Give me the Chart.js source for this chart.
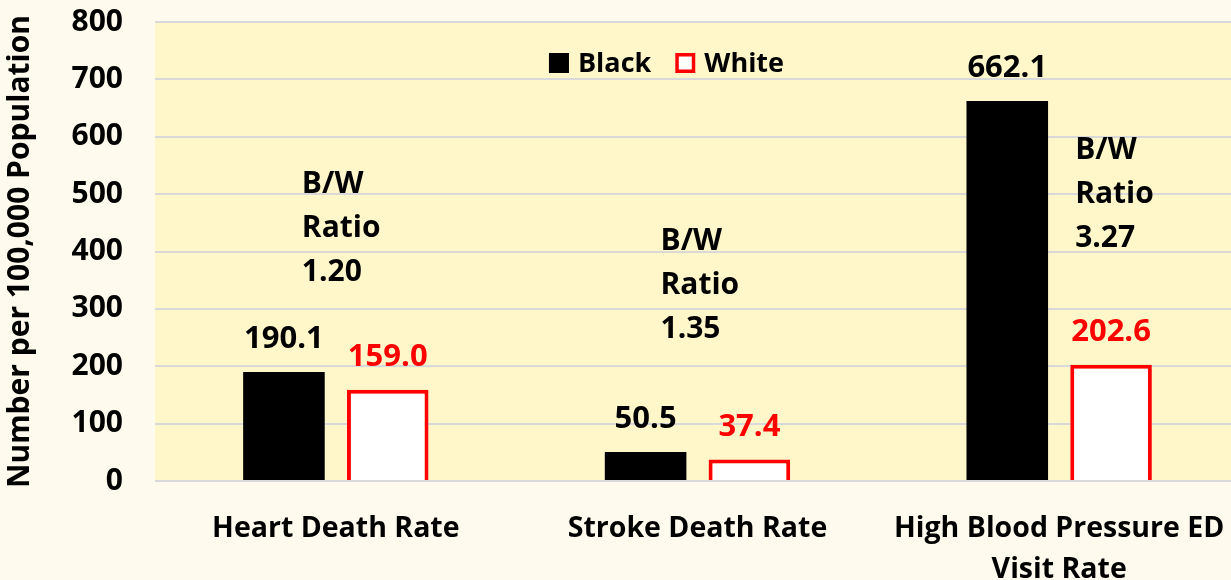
<!DOCTYPE html>
<html>
<head>
<meta charset="utf-8">
<script src="https://cdn.jsdelivr.net/npm/chart.js@4"></script>
<style>
  html, body { margin: 0; padding: 0; background: #FFFAEE; overflow: hidden; }
  canvas { display: block; }
</style>
</head>
<body>
<!-- la zone de tracé déborde un peu à droite, comme sur l'original -->
<canvas id="chart" width="1240" height="580"></canvas>
<script>
// --- data ---
const categories = ['Heart Death Rate', 'Stroke Death Rate', ['High Blood Pressure ED', 'Visit Rate']];
const blackRates = [190.1, 50.5, 662.1];
const whiteRates = [159.0, 37.4, 202.6];
const ratioLabels = ['1.20', '1.35', '3.27'];
const yTicks = [0, 100, 200, 300, 400, 500, 600, 700, 800];

const FONT = '"Open Sans", Lato, sans-serif';

// fond jaune de la zone de tracé
const plotBg = {
    id: 'plotBg',
    beforeDraw(chart) {
        const { ctx, chartArea: a } = chart;
        ctx.save();
        ctx.fillStyle = '#FFF7CA';
        ctx.fillRect(a.left, a.top, a.right - a.left, a.bottom - a.top);
        ctx.restore();
    }
};

// valeurs au-dessus des barres
const valueLabels = {
    id: 'valueLabels',
    afterDatasetsDraw(chart) {
        const ctx = chart.ctx;
        ctx.save();
        ctx.font = 'bold 31px ' + FONT;
        ctx.textAlign = 'center';
        ctx.textBaseline = 'alphabetic';
        chart.data.datasets.forEach((ds, i) => {
            chart.getDatasetMeta(i).data.forEach((bar, j) => {
                ctx.fillStyle = ds.labelColor;
                ctx.fillText(ds.data[j].toFixed(1), bar.x, bar.y - 24);
            });
        });
        ctx.restore();
    }
};

// texte "B/W Ratio x.xx"
const ratioNotes = {
    id: 'ratioNotes',
    afterDatasetsDraw(chart, args, opts) {
        const ctx = chart.ctx;
        const x = chart.scales.x, y = chart.scales.y;
        ctx.save();
        ctx.font = 'bold 30px ' + FONT;
        ctx.fillStyle = '#000';
        ctx.textAlign = 'left';
        ctx.textBaseline = 'alphabetic';
        ratioLabels.forEach((r, i) => {
            const p = opts.anchors[i];
            const px = x.getPixelForValue(i) + p.dx;
            const py = y.getPixelForValue(p.y);
            ['B/W', 'Ratio', r].forEach((line, k) => {
                ctx.fillText(line, px, py + k * opts.lineGap);
            });
        });
        ctx.restore();
    }
};

// légende dessinée à la main dans la zone de tracé
const insideLegend = {
    id: 'insideLegend',
    afterDraw(chart, args, opts) {
        const { ctx, chartArea: a } = chart;
        ctx.save();
        ctx.font = 'bold 27px ' + FONT;
        ctx.textBaseline = 'alphabetic';
        const box = 20, gapBox = 9, gapItem = 24;
        const items = chart.data.datasets.map(ds => ({ ds, w: box + gapBox + ctx.measureText(ds.label).width }));
        const total = items.reduce((s, it) => s + it.w, 0) + gapItem * (items.length - 1);
        let cx = (a.left + a.right) / 2 + opts.offsetX - total / 2;
        const top = a.top + opts.offsetY;
        items.forEach(it => {
            const ds = it.ds;
            ctx.fillStyle = ds.backgroundColor;
            ctx.fillRect(cx, top, box, box);
            if (ds.borderWidth) {
                ctx.strokeStyle = ds.borderColor;
                ctx.lineWidth = 3.5;
                ctx.strokeRect(cx + 1.75, top + 1.75, box - 3.5, box - 3.5);
            }
            ctx.fillStyle = '#000';
            ctx.fillText(ds.label, cx + box + gapBox, top + box - 1);
            cx += it.w + gapItem;
        });
        ctx.restore();
    }
};

new Chart(document.getElementById('chart'), {
    type: 'bar',
    data: {
        labels: categories,
        datasets: [
            {
                label: 'Black',
                data: blackRates,
                backgroundColor: '#000000',
                borderWidth: 0,
                labelColor: '#000000'
            },
            {
                label: 'White',
                data: whiteRates,
                backgroundColor: '#FFFFFF',
                borderColor: '#FF0000',
                borderWidth: 4,
                borderSkipped: 'bottom',
                labelColor: '#FF0000'
            }
        ]
    },
    options: {
        responsive: false,
        animation: false,
        categoryPercentage: 0.574,
        barPercentage: 0.786,
        layout: { padding: 0 },
        plugins: {
            legend: { display: false },
            tooltip: { enabled: false },
            ratioNotes: {
                lineGap: 44,
                anchors: [
                    { dx: -34, y: 502 },
                    { dx: -37, y: 402 },
                    { dx: 16, y: 561 }
                ]
            },
            insideLegend: { offsetX: -31, offsetY: 31 }
        },
        scales: {
            x: {
                grid: { display: false },
                border: { display: false },
                ticks: {
                    color: '#000',
                    font: { family: FONT, size: 28.5, weight: 'bold', lineHeight: 1.45 },
                    padding: 19,
                    maxRotation: 0
                },
                afterFit(scale) {
                    scale.height = 99;
                    scale.paddingRight = 0;
                }
            },
            y: {
                min: 0,
                max: 800,
                afterBuildTicks(scale) { scale.ticks = yTicks.map(v => ({ value: v })); },
                grid: { color: '#D9D9D9', lineWidth: 2, drawTicks: false },
                border: { display: false },
                ticks: {
                    color: '#000',
                    font: { family: FONT, size: 30, weight: 'bold' },
                    padding: 32
                },
                title: {
                    display: true,
                    text: 'Number per 100,000 Population',
                    color: '#000',
                    font: { family: FONT, size: 30, weight: 'bold' },
                    padding: { top: 2, bottom: 0 }
                },
                afterFit(scale) {
                    scale.width = 155;
                    scale.paddingTop = 22;
                    scale.paddingBottom = 0;
                }
            }
        }
    },
    plugins: [plotBg, valueLabels, ratioNotes, insideLegend]
});
</script>
</body>
</html>
